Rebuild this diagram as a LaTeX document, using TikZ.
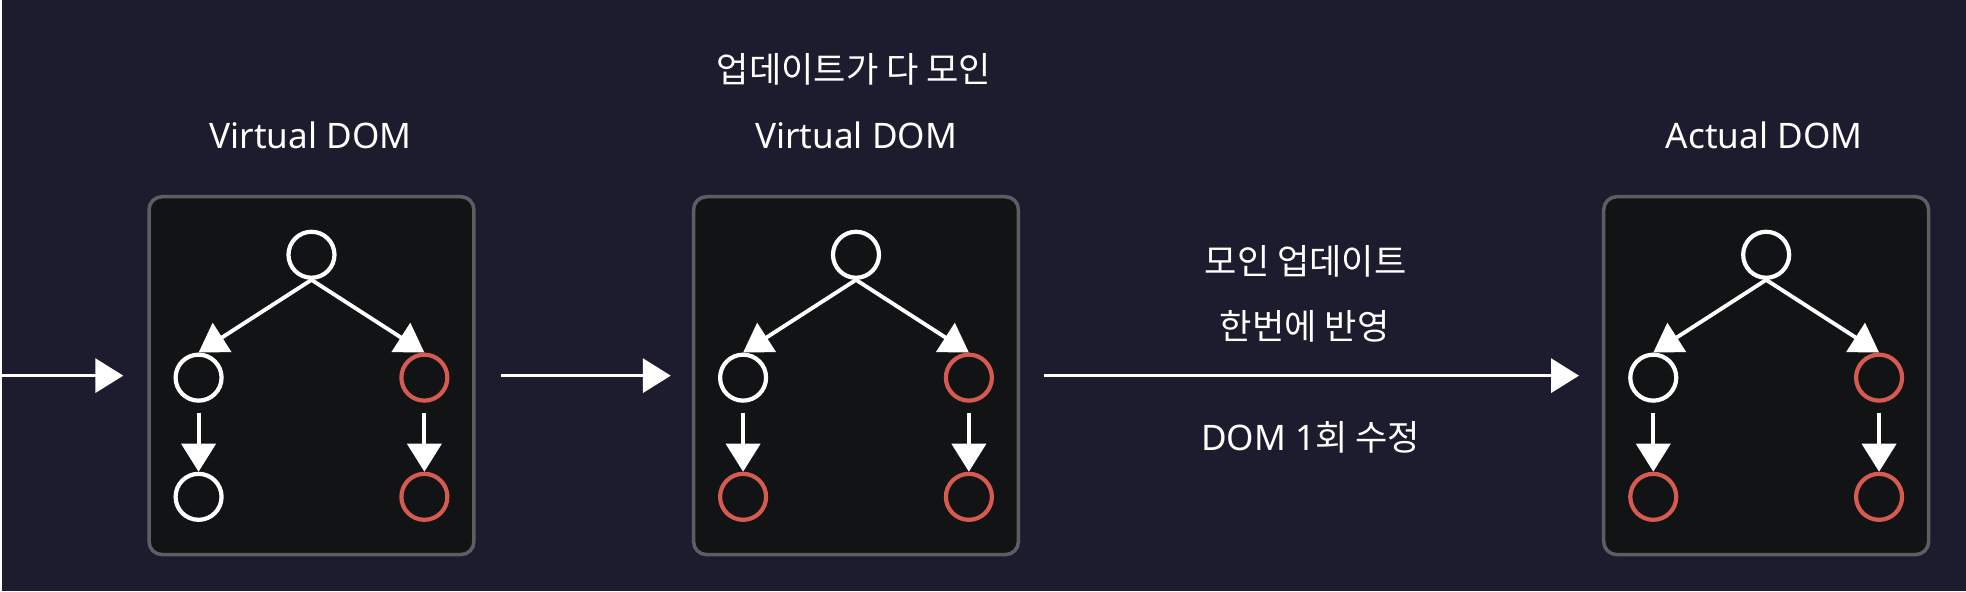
\documentclass[tikz,border=0pt]{standalone}
\usepackage{fontspec}
\setmainfont{Noto Sans}
\newfontfamily\kr{Noto Sans CJK KR}
\usetikzlibrary{arrows.meta, positioning}
\usepackage{xcolor}
\definecolor{bgnavy}{HTML}{1C1C2E}
\definecolor{boxfill}{HTML}{111315}
\definecolor{boxline}{HTML}{5E5E62}
\definecolor{chalkred}{HTML}{D65A50}

\begin{document}
\begin{tikzpicture}[
        x=0.01cm, y=-0.01cm,
        >={Triangle[length=0.28cm, width=0.34cm]},
        every node/.style={
            font=\fontsize{10}{12}\selectfont,
            text=white
        },
        panel/.style={
            draw=boxline, fill=boxfill,
            line width=1pt,
            rounded corners=0.13cm,
            minimum width=3.25cm, minimum height=3.58cm
        },
        wnode/.style={circle, draw=white, line width=1.2pt, minimum size=0.46cm, inner sep=0pt},
        rnode/.style={wnode, draw=chalkred},
        edge/.style={->, white, line width=1.1pt},
        flow/.style={->, white, line width=1pt}
    ]
        % Background
        \fill[bgnavy] (0,0) rectangle (1966,592);

        % Panels
        \node[panel] (box1) at (310,376) {};
        \node[panel] (box2) at (855,376) {};
        \node[panel] (box3) at (1766,376) {};

        % Titles
        \node (t1) at (309,135) {Virtual DOM};
        \node (t2a) at (853,69) {\kr 업데이트가 다 모인};
        \node (t2) at (855,135) {Virtual DOM};
        \node (t3) at (1764,135) {Actual DOM};

        % Tree in first panel
        \node[wnode] (r1) at (310,255) {};
        \node[wnode] (a1) at (197,378) {};
        \node[rnode] (b1) at (423,378) {};
        \node[wnode, below=0.69cm of a1] (c1) {};
        \node[rnode, below=0.69cm of b1] (d1) {};
        \draw[edge] (r1.south) -- (a1.north);
        \draw[edge] (r1.south) -- (b1.north);
        \draw[edge, shorten <=0.1cm] (a1) -- (c1);
        \draw[edge, shorten <=0.1cm] (b1) -- (d1);

        % Tree in second panel
        \node[wnode] (r2) at (855,255) {};
        \node[wnode] (a2) at (742,378) {};
        \node[rnode] (b2) at (968,378) {};
        \node[rnode, below=0.69cm of a2] (c2) {};
        \node[rnode, below=0.69cm of b2] (d2) {};
        \draw[edge] (r2.south) -- (a2.north);
        \draw[edge] (r2.south) -- (b2.north);
        \draw[edge, shorten <=0.1cm] (a2) -- (c2);
        \draw[edge, shorten <=0.1cm] (b2) -- (d2);

        % Tree in third panel
        \node[wnode] (r3) at (1766,255) {};
        \node[wnode] (a3) at (1653,378) {};
        \node[rnode] (b3) at (1879,378) {};
        \node[rnode, below=0.69cm of a3] (c3) {};
        \node[rnode, below=0.69cm of b3] (d3) {};
        \draw[edge] (r3.south) -- (a3.north);
        \draw[edge] (r3.south) -- (b3.north);
        \draw[edge, shorten <=0.1cm] (a3) -- (c3);
        \draw[edge, shorten <=0.1cm] (b3) -- (d3);

        % Flow between panels
        \coordinate (start) at (0,376);
        \draw[flow, shorten >=0.24cm] (start) -- (box1);
        \draw[flow, shorten <=0.25cm, shorten >=0.21cm] (box1) -- (box2);
        \draw[flow, shorten <=0.24cm, shorten >=0.23cm] (box2) -- (box3);

        % Labels on the last arrow
        \node (m1) at (1305,262) {\kr 모인 업데이트};
        \node (m2) at (1304,327) {\kr 한번에 반영};
        \node (m3) at (1310,438) {DOM 1{\kr 회 수정}};
    \end{tikzpicture}
\end{document}
